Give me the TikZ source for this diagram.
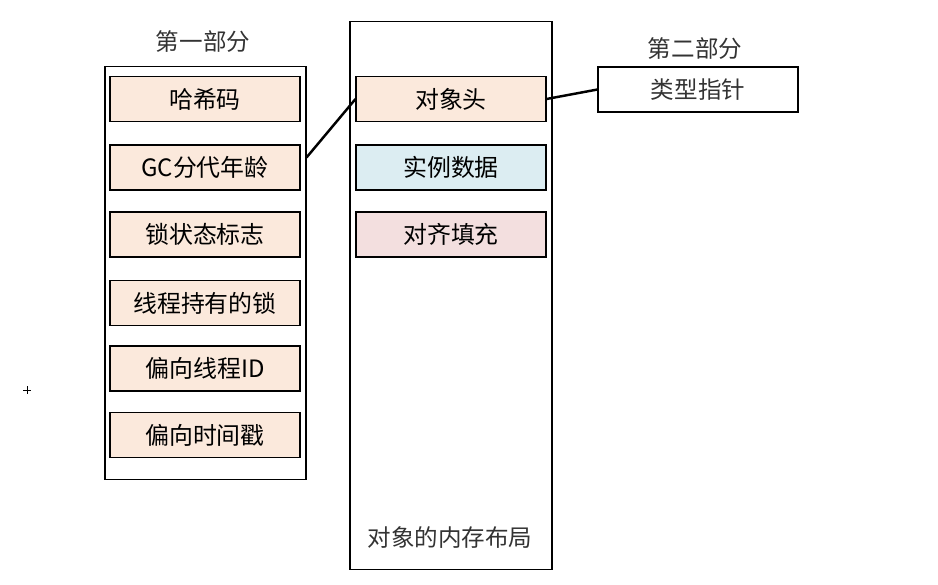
\documentclass[tikz,border=0pt]{standalone}
\usepackage{fontspec}
\newfontfamily\cjk{Noto Sans CJK SC}
\definecolor{peach}{HTML}{FBE9DC}
\definecolor{paleblue}{HTML}{DCEDF2}
\definecolor{palepink}{HTML}{F3DFDF}
\tikzset{
  field/.style={draw, line width=0.6pt, minimum width=3.8cm, minimum height=0.9cm, font=\cjk\fontsize{13.6}{15}\selectfont, inner sep=0pt},
  frame/.style={draw, line width=0.6pt, inner sep=0pt},
  caption/.style={font=\cjk\fontsize{13.4}{15}\selectfont, text=black!80},
  link/.style={line width=1.4pt}
}
\begin{document}
\begin{tikzpicture}[x=0.02cm,y=-0.02cm]
\useasboundingbox (0,0) rectangle (938,585);

% first part
\node[frame, minimum width=4.02cm, minimum height=8.28cm] (P1) at (205.5,273) {};
\node[caption] (P1lab) at (203,42) {第一部分};
\node[field, fill=peach] (hash) at (205,99) {哈希码};
\node[field, fill=peach] (age) at (205,167.5) {GC分代年龄};
\node[field, fill=peach] (lock) at (205,234.5) {锁状态标志};
\node[field, fill=peach] (owner) at (205,303) {线程持有的锁};
\node[field, fill=peach] (tid) at (205,368.5) {偏向线程ID};
\node[field, fill=peach] (stamp) at (205,435) {偏向时间戳};

% object layout
\node[frame, minimum width=4.04cm, minimum height=10.98cm] (obj) at (451,295.5) {};
\node[field, fill=peach] (head) at (451,99) {对象头};
\node[field, fill=paleblue] (data) at (451,167.5) {实例数据};
\node[field, fill=palepink] (pad) at (451,234.5) {对齐填充};
\node[caption] (objlab) at (450,538) {对象的内存布局};

% second part
\node[frame, minimum width=4cm, minimum height=0.9cm, caption] (ptr) at (698,89.5) {类型指针};
\node[caption] (P2lab) at (695,49) {第二部分};

\draw[link] (age.east) ++(6,-10) coordinate (ageout) -- (head.west);
\draw[link] (head.east) -- (ptr.west);

% cursor mark
\draw[line width=0.5pt] (23,390) -- (31,390) (27,386) -- (27,394);

\end{tikzpicture}
\end{document}
